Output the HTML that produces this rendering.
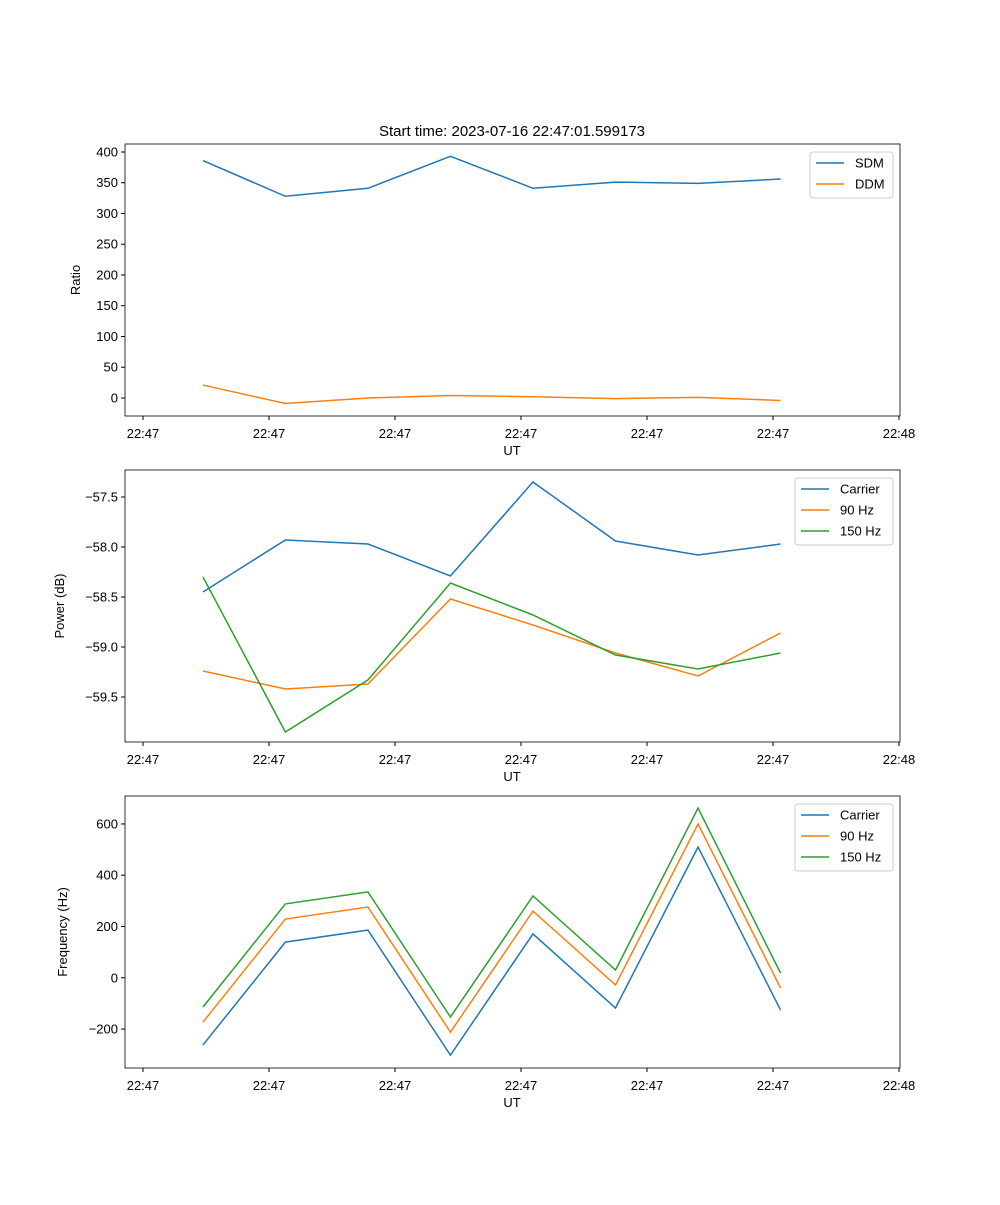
<!DOCTYPE html>
<html><head><meta charset="utf-8"><style>
body{margin:0;background:#fff}
svg text{font-family:"Liberation Sans","DejaVu Sans",sans-serif;font-size:13px;fill:#000}
</style></head><body>
<svg id="c" width="1000" height="1200" xmlns="http://www.w3.org/2000/svg"></svg>
<script>
const xTimes=[4.76,11.3,17.85,24.4,30.95,37.5,44.05,50.6];
const xTickLabels=["22:47","22:47","22:47","22:47","22:47","22:47","22:48"];
const xTickVals=[0,10,20,30,40,50,60];
const sdm=[386,328,341,393,341,351,349,356];
const ddm=[21,-9,0,4,2,-1,1,-4];
const pCarrier=[-58.45,-57.93,-57.97,-58.29,-57.35,-57.94,-58.08,-57.97];
const p90=[-59.24,-59.42,-59.37,-58.52,-58.78,-59.06,-59.29,-58.86];
const p150=[-58.30,-59.85,-59.33,-58.36,-58.68,-59.08,-59.22,-59.06];
const fCarrier=[-262,139,186,-302,171,-118,510,-126];
const f90=[-173,229,276,-212,260,-28,600,-40];
const f150=[-114,288,335,-153,319,30,662,18];
const ticks1=[0,50,100,150,200,250,300,350,400];
const ticks2=[-59.5,-59.0,-58.5,-58.0,-57.5];
const ticks3=[-200,0,200,400,600];
const C=["#1f77b4","#ff7f0e","#2ca02c"];
const svg=document.getElementById('c');
const NS="http://www.w3.org/2000/svg";
function mk(t,a,p){const e=document.createElementNS(NS,t);for(const k in a)e.setAttribute(k,a[k]);(p||svg).appendChild(e);return e;}
const L=125,R=900;
const xs=v=>143+v*12.6;
function panel(name,top,ymin,ymax,ticks,fmt,ylabel,series,names,leg){
  const bot=top+272;
  const g=mk('g',{});
  
  
  const ys=v=>bot-(v-ymin)/(ymax-ymin)*272;
  ticks.forEach(t=>{const y=ys(t);mk('line',{x1:L-4,x2:L,y1:y,y2:y,stroke:'#000'},g);
    const tx=mk('text',{x:L-7,y:y+4.5,'text-anchor':'end'},g);tx.textContent=fmt(t);
    });
  xTickVals.forEach((t,i)=>{const x=xs(t);mk('line',{x1:x,x2:x,y1:bot,y2:bot+4,stroke:'#000'},g);
    const tx=mk('text',{x:x,y:bot+22,'text-anchor':'middle'},g);tx.textContent=xTickLabels[i];
    });
  const xl=mk('text',{x:512,y:bot+39,'text-anchor':'middle'},g);xl.textContent='UT';
  
  const yl=mk('text',{x:0,y:0,'text-anchor':'middle',transform:`translate(${leg.yx},${top+136}) rotate(-90)`},g);yl.textContent=ylabel;
  
  series.forEach((s,i)=>{const p=mk('polyline',{points:s.map((v,j)=>xs(xTimes[j])+','+ys(v)).join(' '),fill:'none',stroke:C[i],'stroke-width':1.5},g);
    });
  mk('rect',{x:L,y:top,width:R-L,height:272,fill:'none',stroke:'#000','stroke-width':0.8},g);
  const lg=mk('g',{},g);
  
  mk('rect',{x:leg.x,y:top+8,width:893-leg.x,height:names.length*21+4,fill:'#fff',stroke:'#ccc',rx:3},lg);
  names.forEach((n,i)=>{const y=top+19+i*21;mk('line',{x1:leg.x+6,x2:leg.x+34,y1:y,y2:y,stroke:C[i],'stroke-width':1.5},lg);
    const t=mk('text',{x:leg.x+45,y:y+4.5},lg);t.textContent=n;});
}
const tt=mk('text',{x:512,y:136,'text-anchor':'middle','font-size':'15'});
tt.textContent='Start time: 2023-07-16 22:47:01.599173';tt.style.fontSize='15px';

panel('ratio-panel',144,-29.3,413,ticks1,t=>String(t),'Ratio',[sdm,ddm],['SDM','DDM'],{x:810,yx:80});
panel('power-panel',470,-59.95,-57.23,ticks2,t=>'\u2212'+Math.abs(t).toFixed(1),'Power (dB)',[pCarrier,p90,p150],['Carrier','90 Hz','150 Hz'],{x:795,yx:64});
panel('frequency-panel',796,-352,709,ticks3,t=>(t<0?'\u2212':'')+Math.abs(t),'Frequency (Hz)',[fCarrier,f90,f150],['Carrier','90 Hz','150 Hz'],{x:795,yx:67});
</script>
</body></html>
